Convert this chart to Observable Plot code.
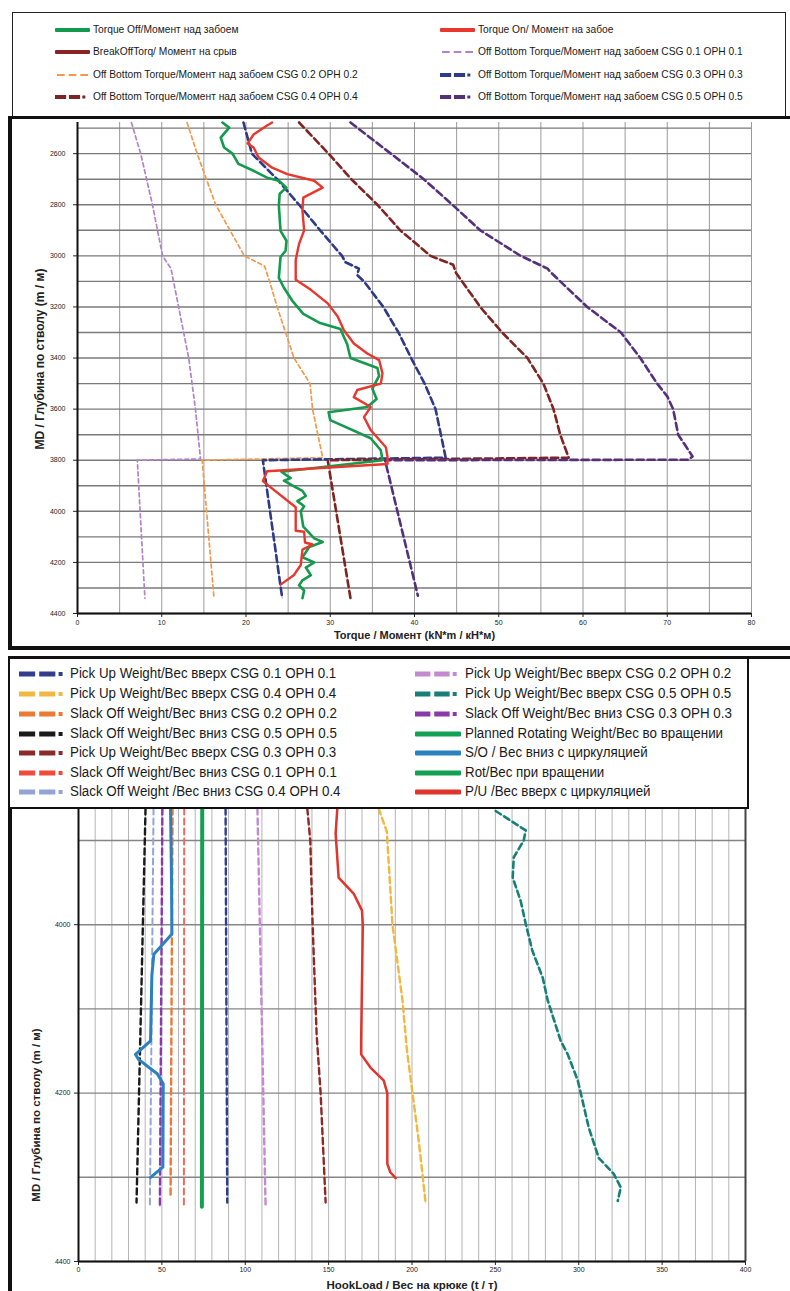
<!DOCTYPE html>
<html><head><meta charset="utf-8">
<script src="https://cdn.jsdelivr.net/npm/d3@7"></script>
<script src="https://cdn.jsdelivr.net/npm/@observablehq/plot@0.6"></script>
<style>
body{margin:0;width:790px;height:1291px;position:relative;background:#fff;overflow:hidden;
 font-family:"Liberation Sans Narrow","Arial Narrow","Liberation Sans",Arial,sans-serif;color:#1a1a1a;}
.abs{position:absolute;}
.lg{position:absolute;white-space:nowrap;line-height:1;transform-origin:left center;}
</style></head><body>
<div id="chart1" class="abs" style="left:0;top:118px;"></div>
<div id="chart2" class="abs" style="left:0;top:808px;"></div>
<div class="abs" style="left:12px;top:12px;width:772px;height:104px;border:1.5px solid #222;"></div>
<div class="abs" style="left:8px;top:116px;width:800px;height:527px;border-left:4px solid #111;border-top:3px solid #111;border-bottom:4px solid #111;"></div>
<div class="abs" style="left:8px;top:656px;width:800px;height:640px;border-left:4px solid #111;border-top:3px solid #111;"></div>
<div id="leg2" class="abs" style="left:8px;top:657px;width:737px;height:148px;border:2px solid #111;background:#fff;"></div>
<div id="leg1" class="abs" style="left:0;top:0;"></div>
<script>
// ---------- TOP CHART DATA (Torque) ----------
const torqueXTicks = [0,10,20,30,40,50,60,70,80];
const torqueYTicks = [2600,2800,3000,3200,3400,3600,3800,4000,4200,4400];

const torqueOffDepth = [2478,2498,2537,2576,2600,2640,2667,2694,2706,2733,2757,2804,2902,2941,2980,3004,3086,3125,3176,3227,3263,3286,3345,3400,3439,3470,3520,3560,3592,3612,3643,3714,3761,3800,3845,3870,3880,3902,3920,3940,3960,3980,4000,4060,4106,4120,4140,4160,4180,4200,4220,4250,4270,4290,4310,4340];
const torqueOffValue = [17.2,18.0,17.0,17.4,18.4,19.1,20.9,22.5,23.9,24.8,24.0,23.9,24.1,24.8,24.7,24.1,23.9,24.5,25.5,26.8,28.8,31.2,32.0,32.4,35.6,35.8,35.0,35.5,34.4,29.8,30.0,34.8,36.0,36.2,24.2,25.3,24.5,25.7,26.7,27.1,26.1,26.9,26.5,26.8,28.1,29.1,27.5,27.1,26.7,28.1,27.1,27.7,26.7,26.3,26.9,26.7];

const torqueOnDepth = [2478,2490,2525,2560,2576,2615,2655,2680,2706,2733,2772,2823,2900,2953,3016,3094,3133,3186,3238,3290,3343,3382,3408,3460,3500,3525,3553,3592,3631,3682,3749,3788,3815,3843,3882,3984,4076,4080,4122,4130,4150,4210,4249,4287];
const torqueOnValue = [23.1,22.5,20.9,20.2,20.9,21.5,23.1,24.9,28.1,29.1,26.8,26.7,26.9,26.3,25.9,25.9,27.7,29.7,30.9,31.6,32.8,34.4,35.8,36.2,36.0,33.2,32.8,34.8,34.0,34.8,36.6,36.8,36.8,22.5,22.0,25.9,25.9,26.9,27.0,27.9,26.7,26.5,25.7,24.1];

const offBottom01Depth = [2478,2600,2800,3000,3050,3200,3400,3600,3795,3800,4340];
const offBottom01Value = [6.4,7.5,8.9,10.1,11.1,12.0,13.2,14.0,14.6,7.1,8.0];
const offBottom02Depth = [2478,2600,2800,3000,3040,3100,3200,3400,3500,3600,3790,3800,4340];
const offBottom02Value = [13.0,14.2,16.4,19.8,22.2,22.8,23.7,25.7,27.6,27.9,29.1,14.8,16.2];
const offBottom03Depth = [2478,2600,2700,2800,2900,3000,3025,3050,3075,3100,3200,3300,3400,3500,3600,3790,3800,4340];
const offBottom03Value = [19.7,20.7,23.7,26.3,28.8,31.4,31.8,33.4,33.2,34.0,36.3,38.1,39.6,41.2,42.5,43.7,22.0,24.3];
const offBottom04Depth = [2478,2600,2700,2800,2900,3000,3035,3065,3200,3300,3400,3500,3600,3700,3790,3800,4340];
const offBottom04Value = [26.3,29.8,32.5,35.6,38.3,41.9,44.6,44.9,47.8,50.4,53.4,55.3,56.5,57.3,58.3,29.7,32.4];
const offBottom05Depth = [2478,2600,2700,2800,2900,3000,3050,3065,3100,3200,3300,3400,3500,3550,3600,3700,3785,3798,3800,4330];
const offBottom05Value = [32.4,37.2,41.1,44.5,47.8,52.6,55.8,56.2,57.3,60.5,64.5,66.8,68.8,70.0,70.7,71.3,73.0,72.5,36.5,40.4];

// ---------- BOTTOM CHART DATA (Hook load) ----------
const hookXTicks = [0,50,100,150,200,250,300,350,400];
const hookYTicks = [4000,4200,4400];

const puCsg01Depth = [3862,4330];           const puCsg01Value = [88.2,89.2];
const puCsg02Depth = [3862,4100,4335];      const puCsg02Value = [107.3,109.8,112.2];
const puCsg03Depth = [3862,3900,4000,4130,4200,4330]; const puCsg03Value = [137.2,139.0,140.4,142.8,145.2,148.2];
const puCsg04Depth = [3862,3890,3900,4000,4090,4150,4200,4256,4331]; const puCsg04Value = [180.0,185.0,185.2,188.3,194.3,197.0,200.3,204.0,208.2];
const puCsg05Depth = [3865,3888,3900,3920,3944,3972,3999,4031,4063,4090,4138,4154,4185,4200,4241,4277,4296,4312,4328];
const puCsg05Value = [250.2,268.2,267.0,261.0,260.4,265.2,268.2,272.2,278.4,281.4,289.2,293.4,299.4,301.2,306.0,312.0,321.0,325.2,323.4];
const soCsg01Depth = [3862,4335];           const soCsg01Value = [63.4,63.2];
const soCsg02Depth = [3862,4325];           const soCsg02Value = [56.4,55.2];
const soCsg03Depth = [3862,4335];           const soCsg03Value = [50.3,48.8];
const soCsg04Depth = [3862,4335];           const soCsg04Value = [45.0,42.8];
const soCsg05Depth = [3862,4330];           const soCsg05Value = [40.2,34.8];
const plannedRotDepth = [3862,4335];        const plannedRotValue = [74.2,74.0];
const soCircDepth = [3862,3950,4011,4035,4060,4138,4154,4160,4177,4189,4288,4300];
const soCircValue = [55.2,55.8,56.0,45.2,44.0,43.2,34.2,36.0,47.2,50.8,50.6,43.2];
const puCircDepth = [3862,3892,3944,3963,3983,4000,4138,4154,4170,4185,4200,4284,4294,4301];
const puCircValue = [155.2,154.2,156.0,165.0,170.0,170.5,169.5,169.5,175.2,183.0,185.2,185.2,187.0,190.2];

// ---------- LEGEND LABELS ----------
const torqueLegend = [
  ["Torque Off/Момент над забоем","#149a4c","solid"],
  ["Torque On/ Момент на забое","#e8372c","solid"],
  ["BreakOffTorq/ Момент на срыв","#8a2323","solid"],
  ["Off Bottom Torque/Момент над забоем CSG 0.1 OPH 0.1","#b184c9","thin"],
  ["Off Bottom Torque/Момент  над забоем CSG 0.2 OPH 0.2","#f29a4a","thin"],
  ["Off Bottom Torque/Момент над забоем CSG 0.3 OPH 0.3","#2e3a86","dash"],
  ["Off Bottom Torque/Момент  над забоем CSG 0.4 OPH 0.4","#7e2424","dash"],
  ["Off Bottom Torque/Момент над забоем CSG 0.5 OPH 0.5","#55307a","dash"]
];
const hookLegendLeft = [
  ["Pick Up Weight/Вес вверх CSG 0.1 OPH 0.1","#2f3f8e","dash"],
  ["Pick Up Weight/Вес вверх CSG 0.4 OPH 0.4","#f0b840","dash"],
  ["Slack Off Weight/Вес вниз CSG 0.2 OPH 0.2","#ec7a36","dash"],
  ["Slack Off Weight/Вес вниз CSG 0.5 OPH 0.5","#1a1a1a","dash"],
  ["Pick Up Weight/Вес вверх  CSG 0.3 OPH 0.3","#8c2a2a","dash"],
  ["Slack Off Weight/Вес вниз CSG 0.1 OPH 0.1","#ee4a3e","dash"],
  ["Slack Off Weight /Вес вниз CSG 0.4 OPH 0.4","#95a4d6","dash"]
];
const hookLegendRight = [
  ["Pick Up Weight/Вес вверх CSG 0.2 OPH 0.2","#c48ad0","dash"],
  ["Pick Up Weight/Вес вверх CSG 0.5 OPH 0.5","#177e78","dash"],
  ["Slack Off Weight/Вес вниз CSG 0.3 OPH 0.3","#8a3aa8","dash"],
  ["Planned  Rotating  Weight/Вес во вращении","#12a152","solid"],
  ["S/O / Вес вниз с циркуляцией","#2b80c0","solid"],
  ["Rot/Вес при вращении","#12a152","solid"],
  ["P/U /Вес вверх с циркуляцией","#e0342c","solid"]
];

// ---------- helpers ----------
const rows = (ds, vs) => ds.map((d, i) => ({d, v: vs[i]}));
function dashed(ds, vs, color, under, w = 2.6, dash = "7,4") {
  const r = rows(ds, vs), out = [];
  if (under) out.push(Plot.line(r, {x: "v", y: "d", stroke: under, strokeWidth: 1}));
  out.push(Plot.line(r, {x: "v", y: "d", stroke: color, strokeWidth: w, strokeDasharray: dash}));
  return out;
}
const solid = (ds, vs, color, w) => Plot.line(rows(ds, vs), {x: "v", y: "d", stroke: color, strokeWidth: w, strokeLinejoin: "round"});
const fmt = d => String(d);
const FONT = '"Liberation Sans Narrow","Arial Narrow","Liberation Sans",Arial,sans-serif';

// ---------- TOP CHART ----------
const c1 = Plot.plot({
  width: 790, height: 527, marginLeft: 77, marginRight: 39, marginTop: 4, marginBottom: 32,
  style: {background: "transparent", fontFamily: FONT, fontSize: "7px", color: "#222"},
  x: {domain: [0, 80]},
  y: {domain: [2478, 4400], reverse: true},
  marks: [
    Plot.gridX(d3.range(0, 81, 5), {stroke: "#9a9a9a", strokeOpacity: 1, strokeWidth: 1}),
    Plot.gridY(d3.range(2500, 4401, 100), {stroke: "#7a7a7a", strokeOpacity: 1, strokeWidth: 1.4}),
    Plot.axisX(torqueXTicks, {tickSize: 4, tickPadding: 3, label: null, tickFormat: fmt, fontSize: 7}),
    Plot.axisY(torqueYTicks, {tickSize: 4, tickPadding: 8, label: null, tickFormat: fmt, fontSize: 7}),
    Plot.ruleX([0], {stroke: "#111", strokeWidth: 2}),
    Plot.ruleY([4400], {stroke: "#111", strokeWidth: 2}),
    ...dashed(offBottom01Depth, offBottom01Value, "#b184c9", null, 1.7, "4,3"),
    ...dashed(offBottom02Depth, offBottom02Value, "#f29a4a", null, 1.7, "4,3"),
    ...dashed(offBottom03Depth, offBottom03Value, "#2e3a86", "#a7b2e6"),
    ...dashed(offBottom04Depth, offBottom04Value, "#7e2424", "#f3a878"),
    ...dashed(offBottom05Depth, offBottom05Value, "#55307a", "#cfa8e6"),
    solid(torqueOffDepth, torqueOffValue, "#149a4c", 2.6),
    solid(torqueOnDepth, torqueOnValue, "#e8372c", 2.4),
    Plot.text(["Torque / Момент (kN*m / кН*м)"], {frameAnchor: "bottom", textAnchor: "middle", dy: 25, fontSize: 11, fontWeight: "bold", fill: "#222"}),
    Plot.text(["MD / Глубина по стволу (m / м)"], {frameAnchor: "left", textAnchor: "middle", dx: -37, dy: -9, rotate: -90, fontSize: 12, fontWeight: "bold", fill: "#222"})
  ]
});
document.getElementById("chart1").append(c1);

// ---------- BOTTOM CHART ----------
const c2 = Plot.plot({
  width: 790, height: 483, marginLeft: 78, marginRight: 45, marginTop: 0, marginBottom: 30,
  style: {background: "transparent", fontFamily: FONT, fontSize: "7px", color: "#222"},
  x: {domain: [0, 400]},
  y: {domain: [3862, 4400], reverse: true},
  marks: [
    Plot.gridX(d3.range(0, 401, 10), {stroke: "#b5b5b5", strokeOpacity: 1, strokeWidth: 1}),
    Plot.gridY(d3.range(3900, 4401, 100), {stroke: "#858585", strokeOpacity: 1, strokeWidth: 1.4}),
    Plot.axisX(hookXTicks, {tickSize: 4, tickPadding: 2, label: null, tickFormat: fmt, fontSize: 7}),
    Plot.axisY(hookYTicks, {tickSize: 4, tickPadding: 4, label: null, tickFormat: fmt, fontSize: 7}),
    Plot.ruleX([0], {stroke: "#111", strokeWidth: 2}),
    Plot.ruleX([400], {stroke: "#444", strokeWidth: 2}),
    Plot.ruleY([4400], {stroke: "#111", strokeWidth: 2}),
    ...dashed(soCsg05Depth, soCsg05Value, "#1a1a1a", null, 2.4, "6,4"),
    ...dashed(soCsg04Depth, soCsg04Value, "#95a4d6", null, 2, "6,4"),
    ...dashed(soCsg03Depth, soCsg03Value, "#8a3aa8", "#d8b0e8", 2.4, "6,4"),
    ...dashed(soCsg02Depth, soCsg02Value, "#ec7a36", null, 2.4, "6,4"),
    ...dashed(soCsg01Depth, soCsg01Value, "#ee6a5a", null, 2, "6,4"),
    solid(plannedRotDepth, plannedRotValue, "#12a152", 4),
    ...dashed(puCsg01Depth, puCsg01Value, "#2f3f8e", "#a8b4e0", 2.4, "6,4"),
    ...dashed(puCsg02Depth, puCsg02Value, "#c48ad0", null, 2.4, "6,4"),
    ...dashed(puCsg03Depth, puCsg03Value, "#8c2a2a", "#f0a8a0", 2.4, "6,4"),
    ...dashed(puCsg04Depth, puCsg04Value, "#f0b840", "#fbe3a0", 2.4, "6,4"),
    ...dashed(puCsg05Depth, puCsg05Value, "#177e78", "#7fe0e0", 2.6, "6,4"),
    solid(soCircDepth, soCircValue, "#2b80c0", 3),
    solid(puCircDepth, puCircValue, "#e0342c", 2.5),
    Plot.text(["HookLoad / Вес на крюке (t / т)"], {frameAnchor: "bottom", textAnchor: "middle", dy: 27, fontSize: 11.5, fontWeight: 600, fill: "#222"}),
    Plot.text(["MD / Глубина по стволу (m / м)"], {frameAnchor: "left", textAnchor: "middle", dx: -42, dy: 80, rotate: -90, fontSize: 11.5, fontWeight: "bold", fill: "#222"})
  ]
});
document.getElementById("chart2").append(c2);

// ---------- LEGENDS ----------
function sample(color, kind, w, thick) {
  const ns = "http://www.w3.org/2000/svg";
  const s = document.createElementNS(ns, "svg");
  s.setAttribute("width", w); s.setAttribute("height", 10);
  const add = (tag, attrs) => { const e = document.createElementNS(ns, tag); for (const k in attrs) e.setAttribute(k, attrs[k]); s.append(e); };
  if (kind === "solid") add("rect", {x: 0, y: 5 - thick / 2, width: w, height: thick, fill: color, rx: 1});
  else if (kind === "thin") {
    for (let i = 0; i < 3; i++) add("rect", {x: 2 + i * (w / 3), y: 4, width: w / 3 - 4, height: 2, fill: color});
  } else {
    const seg = (w - 6) / 2.6;
    add("rect", {x: 0, y: 5 - thick / 2, width: seg, height: thick, fill: color});
    add("rect", {x: seg * 1.25, y: 5 - thick / 2, width: seg, height: thick, fill: color});
    add("rect", {x: seg * 2.45, y: 5 - thick / 2 + 0.5, width: thick - 1, height: thick - 1, fill: color});
  }
  return s;
}
function item(parent, x, y, label, color, kind, sw, thick, fs, gap, sx) {
  const s = sample(color, kind, sw, thick);
  s.style.position = "absolute"; s.style.left = x + "px"; s.style.top = (y - 5) + "px";
  parent.append(s);
  const t = document.createElement("div");
  t.className = "lg"; t.textContent = label;
  t.style.left = (x + sw + gap) + "px"; t.style.top = (y - fs * 0.55) + "px"; t.style.fontSize = fs + "px";
  t.style.transform = "scaleX(" + sx + ")";
  parent.append(t);
}
const L1 = document.getElementById("leg1");
const topRowsY = [30, 52, 75, 97];
torqueLegend.forEach(([lab, col, kind], i) => {
  const colIdx = i % 2, row = Math.floor(i / 2);
  item(L1, colIdx ? 440 : 55, topRowsY[row], lab, col, kind, 35, 4, 11, 3, 0.93);
});
const L2 = document.getElementById("leg2");
const botRowsY = [15, 35, 55, 75, 94, 114, 133];
hookLegendLeft.forEach(([lab, col, kind], i) => item(L2, 9, botRowsY[i], lab, col, kind, 48, 5, 15.5, 3, 0.86));
hookLegendRight.forEach(([lab, col, kind], i) => item(L2, 405, botRowsY[i], lab, col, kind, 46, 5, 15.5, 4, 0.86));
</script>
</body></html>
